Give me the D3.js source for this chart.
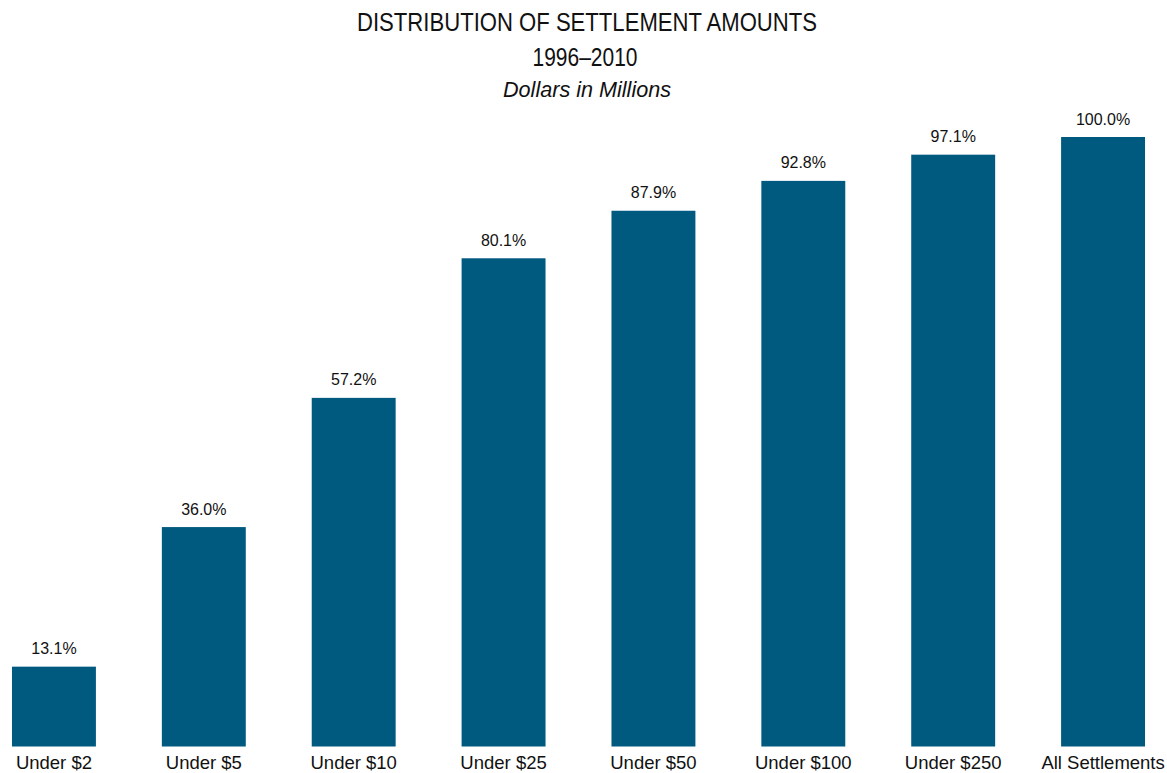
<!DOCTYPE html>
<html>
<head>
<meta charset="utf-8">
<script src="https://cdn.jsdelivr.net/npm/d3@7"></script>
<style>
  html, body { margin: 0; padding: 0; background: #fff; }
  svg { display: block; }
</style>
</head>
<body>
<svg id="chart" width="1167" height="773"></svg>
<script>
// Cumulative share of settlements by settlement size, 1996–2010
const categories = ["Under $2", "Under $5", "Under $10", "Under $25", "Under $50", "Under $100", "Under $250", "All Settlements"];
const shares = [13.1, 36.0, 57.2, 80.1, 87.9, 92.8, 97.1, 100.0];
const yDomain = [0, 100];

const svg = d3.select("#chart");
const barColor = "#00597f";
const sans = "'Liberation Sans', Arial, sans-serif";
const narrow = "'Liberation Sans Narrow', 'Arial Narrow', 'Liberation Sans', Arial, sans-serif";

const x = d3.scaleBand()
  .domain(categories)
  .range([-21, 1178])
  .paddingInner(0.44)
  .paddingOuter(0.22);

const y = d3.scaleLinear().domain(yDomain).range([746.5, 137]);

// Titles (condensed face, fitted to a fixed width)
svg.append("text")
  .attr("x", 587).attr("y", 31)
  .attr("text-anchor", "middle")
  .attr("textLength", 460)
  .attr("lengthAdjust", "spacingAndGlyphs")
  .style("font-family", narrow)
  .style("font-size", "25.5px")
  .style("fill", "#111")
  .text("DISTRIBUTION OF SETTLEMENT AMOUNTS");
svg.append("text")
  .attr("x", 585).attr("y", 66)
  .attr("text-anchor", "middle")
  .attr("textLength", 105)
  .attr("lengthAdjust", "spacingAndGlyphs")
  .style("font-family", narrow)
  .style("font-size", "25.5px")
  .style("fill", "#111")
  .text("1996–2010");
svg.append("text")
  .attr("x", 587).attr("y", 97)
  .attr("text-anchor", "middle")
  .style("font-family", sans)
  .style("font-style", "italic")
  .style("font-size", "21.6px")
  .style("fill", "#111")
  .text("Dollars in Millions");

// Bars
svg.append("g").selectAll("rect")
  .data(categories)
  .join("rect")
  .attr("x", d => x(d))
  .attr("width", x.bandwidth())
  .attr("y", (d, i) => y(shares[i]))
  .attr("height", (d, i) => y(0) - y(shares[i]))
  .attr("fill", barColor);

// Value labels
svg.append("g").selectAll("text")
  .data(categories)
  .join("text")
  .attr("x", d => x(d) + x.bandwidth() / 2)
  .attr("y", (d, i) => y(shares[i]) - 12.5)
  .attr("text-anchor", "middle")
  .style("font-family", sans)
  .style("font-size", "16px")
  .style("fill", "#111")
  .text((d, i) => shares[i].toFixed(1) + "%");

// Category axis labels
const xAxis = d3.axisBottom(x).tickSize(0).tickPadding(0);
const gx = svg.append("g")
  .attr("transform", `translate(0,${y(0)})`)
  .call(xAxis);
gx.select(".domain").remove();
gx.selectAll("text")
  .attr("dy", null)
  .attr("y", 22.5)
  .style("font-family", sans)
  .style("font-size", "18.5px")
  .style("fill", "#111");
</script>
</body>
</html>
